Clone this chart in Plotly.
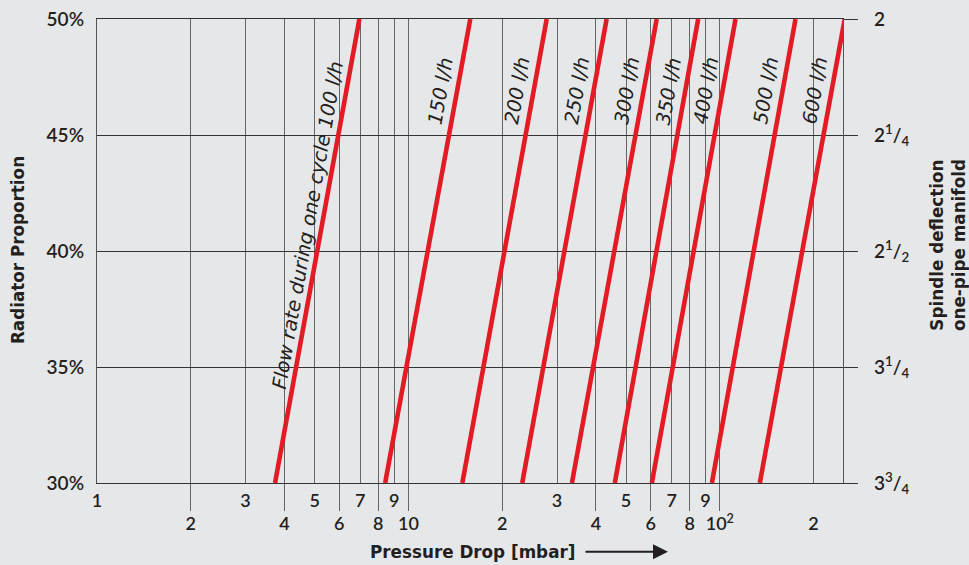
import math
import plotly.graph_objects as go

# ---------------- data ----------------
flow_rates = [100, 150, 200, 250, 300, 350, 400, 500, 600]          # l/h
dp_at_30 = [3.73, 8.42, 14.9, 23.2, 33.5, 46.0, 60.5, 94.3, 134.4]   # mbar at 30 %
dp_at_50 = [6.96, 15.8, 27.8, 43.3, 62.7, 85.2, 112.3, 175.0, 251.8]  # mbar at 50 %
proportion_ends = [30, 50]

x_tick_vals = [1, 2, 3, 4, 5, 6, 7, 8, 9, 10, 20, 30, 40, 50, 60, 70, 80, 90, 100, 200]
x_tick_text = ["1", "2", "3", "4", "5", "6", "7", "8", "9", "10",
               "2", "3", "4", "5", "6", "7", "8", "9", "10<sup>2</sup>", "2"]
x_lower_row = [2, 4, 6, 8, 10, 20, 40, 60, 80, 100, 200]
x_long_ticks = [2, 4, 6, 8, 10, 20, 40, 60, 80, 100]

y_tick_vals = [30, 35, 40, 45, 50]
y_tick_text = ["30%", "35%", "40%", "45%", "50%"]
spindle_text = ["3<sup>3</sup>/<sub>4</sub>", "3<sup>1</sup>/<sub>4</sub>",
                "2<sup>1</sup>/<sub>2</sub>", "2<sup>1</sup>/<sub>4</sub>", "2"]

# ---------------- style ----------------
BG = "#e6e7e9"
RED = "#e21b24"
INK = "#231f20"
FONT = "Lato"
TFONT = "DejaVu Sans"
X_MAX = 248.6

fig = go.Figure()

for q, a, b in zip(flow_rates, dp_at_30, dp_at_50):
    fig.add_trace(go.Scatter(
        x=[a, b], y=proportion_ends, mode="lines",
        line=dict(color=RED, width=4.6), cliponaxis=False,
        showlegend=False, hoverinfo="skip"))

# invisible trace to carry the right axis
fig.add_trace(go.Scatter(x=[1], y=[30], yaxis="y2", mode="markers",
                         marker=dict(opacity=0), showlegend=False, hoverinfo="skip"))

# line labels
annotations = []
for i, (q, a, b) in enumerate(zip(flow_rates, dp_at_30, dp_at_50)):
    ly = 41.1 if i == 0 else 46.9
    t = (ly - proportion_ends[0]) / (proportion_ends[1] - proportion_ends[0])
    lx = math.log10(a) + t * (math.log10(b) - math.log10(a))
    txt = f"{q} l/h" if i else f"Flow rate during one cycle {q} l/h"
    annotations.append(dict(
        x=lx, y=ly, xref="x", yref="y", text=txt, showarrow=False,
        textangle=-80, xshift=-14 if i == 0 else -16, xanchor="center", yanchor="middle",
        font=dict(family=TFONT, size=19.5, color=INK, style="italic")))

ticktext = [("<br>" + s) if v in x_lower_row else s for v, s in zip(x_tick_vals, x_tick_text)]

# axis titles
title_font = dict(family=TFONT, size=16.8, color=INK, weight="bold")
annotations.append(dict(x=-0.1066, y=0.503, xref="paper", yref="paper",
                        xanchor="center", yanchor="middle",
                        text="Radiator Proportion", textangle=-90, showarrow=False,
                        font=title_font))
annotations.append(dict(x=1.1408, y=0.513, xref="paper", yref="paper",
                        xanchor="center", yanchor="middle",
                        text="Spindle deflection<br>one-pipe manifold", textangle=-90,
                        showarrow=False, font=title_font))
annotations.append(dict(x=0.504, y=-0.148, xref="paper", yref="paper",
                        xanchor="center", yanchor="middle",
                        text="Pressure Drop [mbar]", showarrow=False,
                        font=title_font))
annotations.append(dict(x=0.7654, y=-0.148, xref="paper", yref="paper",
                        ax=-84, ay=0, axref="pixel", ayref="pixel", text="",
                        showarrow=True, arrowhead=2, arrowsize=1.5, arrowwidth=2,
                        arrowcolor=INK))

tickfont = dict(family=FONT, size=19, color=INK, weight=600)
xtickfont = dict(family=FONT, size=18, color=INK, weight=600)

fig.update_layout(
    width=969, height=565,
    margin=dict(l=97, r=126, t=19, b=82, autoexpand=False),
    paper_bgcolor=BG, plot_bgcolor=BG,
    font=dict(family=FONT, size=18, color=INK),
    showlegend=False,
    annotations=annotations,
    xaxis=dict(
        type="log", range=[0, math.log10(X_MAX)], automargin=False,
        tickmode="array", tickvals=x_tick_vals, ticktext=ticktext, tickangle=0,
        ticks="", showgrid=True, gridcolor="#666666", gridwidth=1,
        showline=True, linecolor="#333333", linewidth=1.3, mirror=True,
        tickfont=xtickfont,
        ticklabelstandoff=1,
        minor=dict(tickmode="array", tickvals=x_long_ticks, ticks="outside",
                   ticklen=27, tickcolor="#666666", tickwidth=1, showgrid=False),
        zeroline=False, fixedrange=True),
    yaxis=dict(
        range=[30, 50], tickmode="array", tickvals=y_tick_vals, ticktext=y_tick_text,
        ticks="", showgrid=True, gridcolor="#333333", gridwidth=1, automargin=False,
        showline=True, linecolor="#555555", linewidth=1.3,
        ticklabelstandoff=8, zeroline=False,
        tickfont=tickfont),
    yaxis2=dict(
        range=[30, 50], overlaying="y", side="right", automargin=False,
        tickmode="array", tickvals=y_tick_vals, ticktext=spindle_text,
        ticks="outside", ticklen=14, tickcolor="#333333", tickwidth=1,
        showgrid=False, showline=True, linecolor="#555555", linewidth=1.3,
        ticklabelstandoff=12, zeroline=False,
        tickfont=tickfont),
)

fig.write_html("out.html", config={"displayModeBar": False},
               post_script="document.body.style.margin='0';document.body.style.overflow='hidden';")
